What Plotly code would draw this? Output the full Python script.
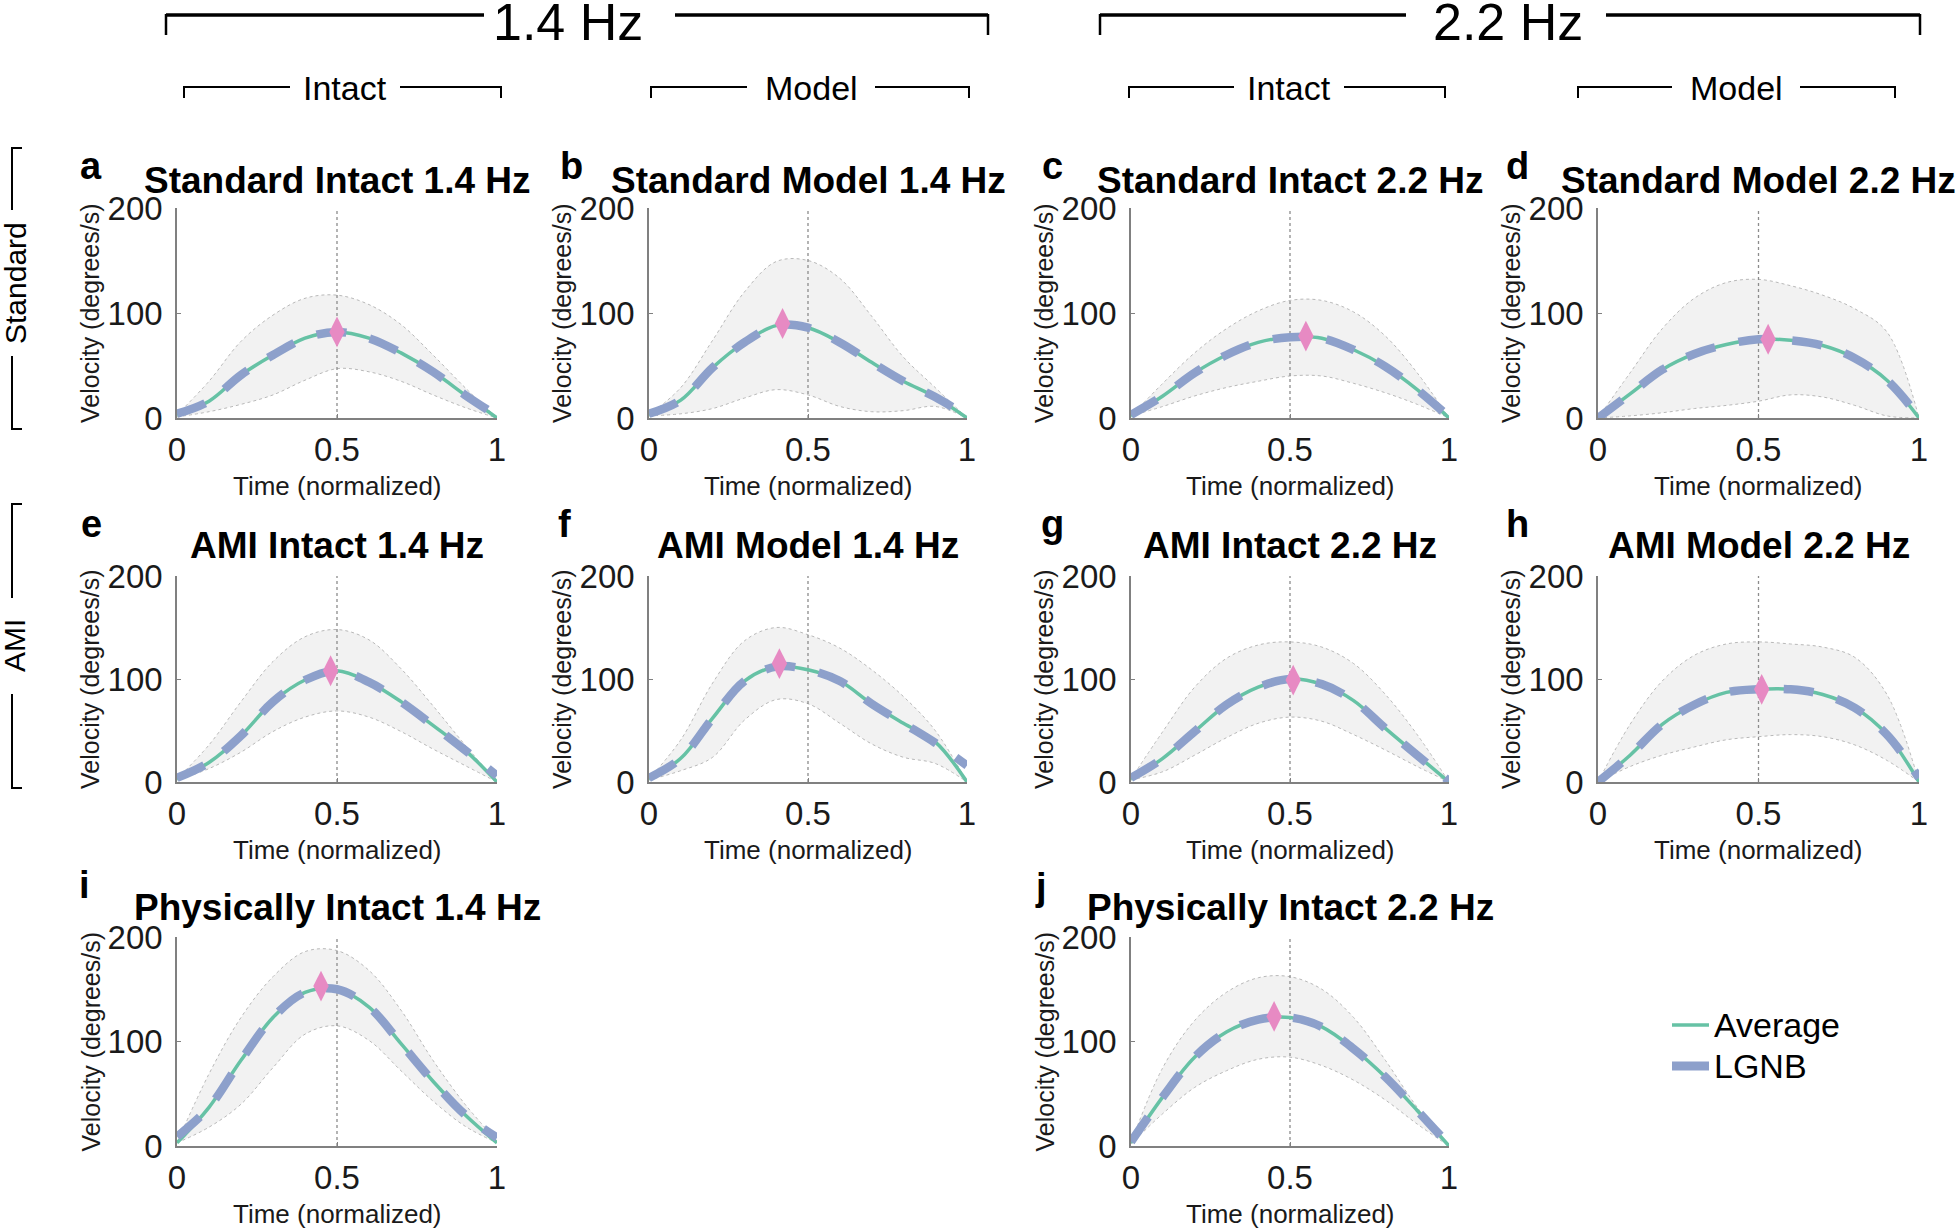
import plotly.graph_objects as go

W, H = 1960, 1230
FONT = "Liberation Sans, Arial, Helvetica, sans-serif"

# ---------------- data ----------------
t_norm = [0.0, 0.1, 0.2, 0.3, 0.4, 0.5, 0.6, 0.7, 0.8, 0.9, 1.0]
x_ticks = [0, 0.5, 1]
x_ticklabels = ["0", "0.5", "1"]
y_ticks = [0, 100, 200]
y_ticklabels = ["0", "100", "200"]

panel_letters = ["a", "b", "c", "d", "e", "f", "g", "h", "i", "j"]
panel_titles = [
    "Standard Intact 1.4 Hz", "Standard Model 1.4 Hz",
    "Standard Intact 2.2 Hz", "Standard Model 2.2 Hz",
    "AMI Intact 1.4 Hz", "AMI Model 1.4 Hz",
    "AMI Intact 2.2 Hz", "AMI Model 2.2 Hz",
    "Physically Intact 1.4 Hz", "Physically Intact 2.2 Hz",
]

a_mean = [3, 16, 41, 60, 76, 82, 76, 62, 44, 22, 0]
a_lgnb = [4, 16, 41, 60, 76, 82, 76, 62, 44, 22, 2]
a_upper = [3, 35, 73, 98, 114, 117, 108, 89, 60, 29, 0]
a_lower = [1, 6, 13, 22, 36, 47, 44, 35, 22, 10, 0]
a_peak = [0.50, 82]

b_mean = [3, 17, 48, 72, 88, 86, 72, 53, 35, 20, 0]
b_lgnb = [4, 17, 48, 72, 88, 86, 72, 53, 35, 20, 2]
b_upper = [3, 29, 74, 120, 149, 150, 133, 97, 58, 29, 0]
b_lower = [2, 4, 9, 19, 27, 22, 11, 6, 7, 11, 0]
b_peak = [0.42, 90]

c_mean = [2, 21, 43, 60, 72, 77, 76, 65, 49, 27, 0]
c_lgnb = [3, 21, 43, 60, 72, 77, 76, 65, 49, 27, 1]
c_upper = [2, 33, 62, 85, 102, 112, 112, 101, 78, 43, 0]
c_lower = [2, 11, 21, 29, 35, 40, 40, 33, 24, 13, 0]
c_peak = [0.55, 78]

d_mean = [0, 23, 46, 61, 70, 75, 74, 69, 57, 36, 0]
d_lgnb = [0, 23, 46, 61, 70, 75, 74, 69, 57, 36, 1]
d_upper = [0, 43, 85, 114, 129, 132, 126, 117, 104, 82, 0]
d_lower = [0, 2, 5, 9, 12, 16, 22, 20, 12, 2, 0]
d_peak = [0.53, 75]

e_mean = [3, 19, 45, 78, 99, 108, 97, 78, 55, 31, 0]
e_lgnb = [4, 19, 45, 78, 99, 108, 97, 78, 55, 31, 6]
e_upper = [3, 36, 78, 117, 141, 148, 138, 110, 74, 36, 0]
e_lower = [2, 13, 29, 49, 63, 69, 63, 49, 32, 16, 0]
e_peak = [0.48, 108]

f_mean = [3, 23, 62, 98, 112, 109, 98, 76, 57, 39, 0]
f_lgnb = [4, 23, 62, 98, 112, 109, 98, 76, 57, 38, 16]
f_upper = [3, 41, 96, 137, 150, 143, 130, 109, 83, 50, 0]
f_lower = [2, 11, 24, 60, 80, 76, 57, 37, 24, 18, 0]
f_peak = [0.41, 115]

g_mean = [3, 23, 49, 75, 92, 100, 95, 79, 52, 26, 0]
g_lgnb = [4, 23, 49, 75, 92, 100, 95, 79, 52, 26, 1]
g_upper = [3, 49, 92, 120, 133, 136, 131, 115, 85, 46, 0]
g_lower = [2, 10, 26, 43, 57, 63, 59, 46, 31, 15, 0]
g_peak = [0.51, 99]

h_mean = [0, 26, 56, 75, 87, 90, 90, 85, 72, 46, 0]
h_lgnb = [0, 26, 56, 75, 87, 90, 90, 85, 72, 46, 4]
h_upper = [0, 56, 98, 123, 134, 136, 134, 131, 121, 85, 0]
h_lower = [0, 15, 26, 34, 41, 44, 46, 44, 36, 21, 0]
h_peak = [0.51, 90]

i_mean = [3, 37, 82, 123, 147, 150, 133, 98, 62, 30, 3]
i_lgnb = [9, 37, 82, 123, 147, 150, 133, 98, 62, 30, 8]
i_upper = [3, 69, 123, 162, 186, 187, 168, 130, 82, 40, 5]
i_lower = [3, 18, 40, 75, 107, 115, 101, 72, 43, 19, 3]
i_peak = [0.45, 153]

j_mean = [3, 47, 85, 109, 121, 123, 114, 93, 66, 34, 0]
j_lgnb = [4, 47, 85, 109, 121, 123, 114, 93, 66, 34, 1]
j_upper = [3, 75, 120, 147, 161, 162, 150, 123, 82, 37, 0]
j_lower = [2, 31, 56, 72, 83, 85, 77, 63, 44, 21, 0]
j_peak = [0.45, 124]

legend_labels = ["Average", "LGNB"]
freq_labels = ["1.4 Hz", "2.2 Hz"]
cond_labels = ["Intact", "Model", "Intact", "Model"]
group_labels = ["Standard", "AMI"]

series = [
    (a_mean, a_lgnb, a_upper, a_lower, a_peak),
    (b_mean, b_lgnb, b_upper, b_lower, b_peak),
    (c_mean, c_lgnb, c_upper, c_lower, c_peak),
    (d_mean, d_lgnb, d_upper, d_lower, d_peak),
    (e_mean, e_lgnb, e_upper, e_lower, e_peak),
    (f_mean, f_lgnb, f_upper, f_lower, f_peak),
    (g_mean, g_lgnb, g_upper, g_lower, g_peak),
    (h_mean, h_lgnb, h_upper, h_lower, h_peak),
    (i_mean, i_lgnb, i_upper, i_lower, i_peak),
    (j_mean, j_lgnb, j_upper, j_lower, j_peak),
]

# ---------------- layout geometry (pixels) ----------------
COLS = [(177, 497), (649, 967), (1131, 1449), (1598, 1919)]
ROWS = [(208, 418), (576, 782), (937, 1146)]
panel_pos = [(0, 0), (0, 1), (0, 2), (0, 3), (1, 0), (1, 1), (1, 2), (1, 3), (2, 0), (2, 2)]
title_y = [180, 545, 907]
letter_pos = [(91, 166), (571, 166), (1052, 166), (1517, 166),
              (91, 524), (564, 524), (1052, 524), (1517, 524),
              (84, 885), (1041, 887)]

GREEN = "#66c2a5"
BLUE = "#8da0cb"
PINK = "#e78ac3"
BAND = "#f2f2f2"
BAND_EDGE = "#b9b9b9"
AXIS = "#808080"
TXT = "#1a1a1a"


def px(x):
    return x / W


def py(y):
    return 1 - y / H


fig = go.Figure()
annotations = []
shapes = []

for k, (mean, lgnb, upper, lower, peak) in enumerate(series):
    r, c = panel_pos[k]
    x0, x1 = COLS[c]
    ytop, ybot = ROWS[r]
    n = k + 1
    sfx = "" if n == 1 else str(n)
    xr, yr = "x" + sfx, "y" + sfx

    # band
    fig.add_trace(go.Scatter(x=t_norm, y=lower, xaxis=xr, yaxis=yr, mode="lines",
                             line=dict(color=BAND_EDGE, width=1, dash="dot", shape="spline"),
                             showlegend=False, hoverinfo="skip"))
    fig.add_trace(go.Scatter(x=t_norm, y=upper, xaxis=xr, yaxis=yr, mode="lines",
                             line=dict(color=BAND_EDGE, width=1, dash="dot", shape="spline"),
                             fill="tonexty", fillcolor=BAND,
                             showlegend=False, hoverinfo="skip"))
    # vertical dotted line at 0.5
    fig.add_trace(go.Scatter(x=[0.5, 0.5], y=[0, 200], xaxis=xr, yaxis=yr, mode="lines",
                             line=dict(color="#8c8c8c", width=1.3, dash="dot"),
                             showlegend=False, hoverinfo="skip"))
    # average
    fig.add_trace(go.Scatter(x=t_norm, y=mean, xaxis=xr, yaxis=yr, mode="lines",
                             line=dict(color=GREEN, width=3.5, shape="spline"),
                             name=legend_labels[0], showlegend=False))
    # LGNB
    fig.add_trace(go.Scatter(x=t_norm, y=lgnb, xaxis=xr, yaxis=yr, mode="lines",
                             line=dict(color=BLUE, width=8.5, dash="30px,24px", shape="spline"),
                             name=legend_labels[1], showlegend=False))
    # peak
    fig.add_trace(go.Scatter(x=[peak[0]], y=[peak[1]], xaxis=xr, yaxis=yr, mode="markers",
                             marker=dict(symbol="diamond-tall", size=22, color=PINK,
                                         line=dict(width=0)),
                             showlegend=False, hoverinfo="skip", cliponaxis=False))

    axis_common = dict(showline=True, linecolor=AXIS, linewidth=1.5, showgrid=False,
                       zeroline=False, ticks="inside", ticklen=4, tickcolor=AXIS,
                       automargin=False,
                       tickfont=dict(family=FONT, size=33, color=TXT), fixedrange=True)
    fig.update_layout(**{
        "xaxis" + sfx: dict(domain=[px(x0), px(x1)], anchor=yr, range=[0, 1],
                            tickvals=x_ticks, ticktext=x_ticklabels,
                            ticklabelstandoff=2, **axis_common),
        "yaxis" + sfx: dict(domain=[py(ybot), py(ytop)], anchor=xr, range=[0, 200],
                            tickvals=y_ticks, ticktext=y_ticklabels,
                            ticklabelstandoff=6, **axis_common),
    })

    cx = (x0 + x1) / 2
    annotations.append(dict(text="<b>%s</b>" % panel_titles[k], x=px(cx), y=py(title_y[r]),
                            xref="paper", yref="paper", showarrow=False,
                            xanchor="center", yanchor="middle",
                            font=dict(family=FONT, size=37, color="black")))
    lx, ly = letter_pos[k]
    annotations.append(dict(text="<b>%s</b>" % panel_letters[k], x=px(lx), y=py(ly),
                            xref="paper", yref="paper", showarrow=False,
                            xanchor="center", yanchor="middle",
                            font=dict(family=FONT, size=38, color="black")))
    annotations.append(dict(text="Time (normalized)", x=px(cx), y=py(ybot + 68),
                            xref="paper", yref="paper", showarrow=False,
                            xanchor="center", yanchor="middle",
                            font=dict(family=FONT, size=26, color=TXT)))
    annotations.append(dict(text="Velocity (degrees/s)", x=px(x0 - 87), y=py((ytop + ybot) / 2),
                            xref="paper", yref="paper", showarrow=False, textangle=-90,
                            xanchor="center", yanchor="middle",
                            font=dict(family=FONT, size=25, color=TXT)))


def seg(xa, ya, xb, yb, w, color="black"):
    shapes.append(dict(type="line", xref="paper", yref="paper",
                       x0=px(xa), y0=py(ya), x1=px(xb), y1=py(yb),
                       line=dict(color=color, width=w)))


# top frequency brackets
freq_br = [(166, 988, 484, 675, 568), (1100, 1920, 1406, 1606, 1508)]
for (l, rr, g0, g1, cx), lab in zip(freq_br, freq_labels):
    seg(l, 15, g0, 15, 3.5)
    seg(g1, 15, rr, 15, 3.5)
    seg(l, 14, l, 35, 2.5)
    seg(rr, 14, rr, 35, 2.5)
    annotations.append(dict(text=lab, x=px(cx), y=py(22), xref="paper", yref="paper",
                            showarrow=False, xanchor="center", yanchor="middle",
                            font=dict(family=FONT, size=52, color="black")))

# condition brackets
cond_br = [(184, 501, 290, 400, 345), (651, 969, 747, 875, 811),
           (1129, 1445, 1234, 1344, 1289), (1578, 1895, 1672, 1800, 1736)]
for (l, rr, g0, g1, cx), lab in zip(cond_br, cond_labels):
    seg(l, 87, g0, 87, 2.2)
    seg(g1, 87, rr, 87, 2.2)
    seg(l, 86, l, 98, 2)
    seg(rr, 86, rr, 98, 2)
    annotations.append(dict(text=lab, x=px(cx), y=py(88), xref="paper", yref="paper",
                            showarrow=False, xanchor="center", yanchor="middle",
                            font=dict(family=FONT, size=34, color="black")))

# side group brackets
side_br = [(148, 429, 210, 356, 283), (504, 788, 598, 694, 646)]
for (t, b, g0, g1, cy), lab in zip(side_br, group_labels):
    seg(12, t, 12, g0, 2)
    seg(12, g1, 12, b, 2)
    seg(11, t, 22, t, 2)
    seg(11, b, 22, b, 2)
    annotations.append(dict(text=lab, x=px(15), y=py(cy), xref="paper", yref="paper",
                            showarrow=False, xanchor="center", yanchor="middle", textangle=-90,
                            font=dict(family=FONT, size=30, color="black")))

# legend
seg(1672, 1025, 1709, 1025, 3.5, GREEN)
seg(1672, 1066, 1709, 1066, 9, BLUE)
for lab, yy in zip(legend_labels, [1025, 1066]):
    annotations.append(dict(text=lab, x=px(1712), y=py(yy), xref="paper", yref="paper",
                            showarrow=False, xanchor="left", yanchor="middle",
                            font=dict(family=FONT, size=34, color="black")))

fig.update_layout(width=W, height=H, margin=dict(l=0, r=0, t=0, b=0, pad=0, autoexpand=False),
                  paper_bgcolor="white", plot_bgcolor="white",
                  annotations=annotations, shapes=shapes, showlegend=False,
                  font=dict(family=FONT, color=TXT))

fig.write_html("out.html",
               config={"displayModeBar": False, "staticPlot": False},
               post_script="document.body.style.margin='0px';"
                           "document.body.style.overflow='hidden';")
